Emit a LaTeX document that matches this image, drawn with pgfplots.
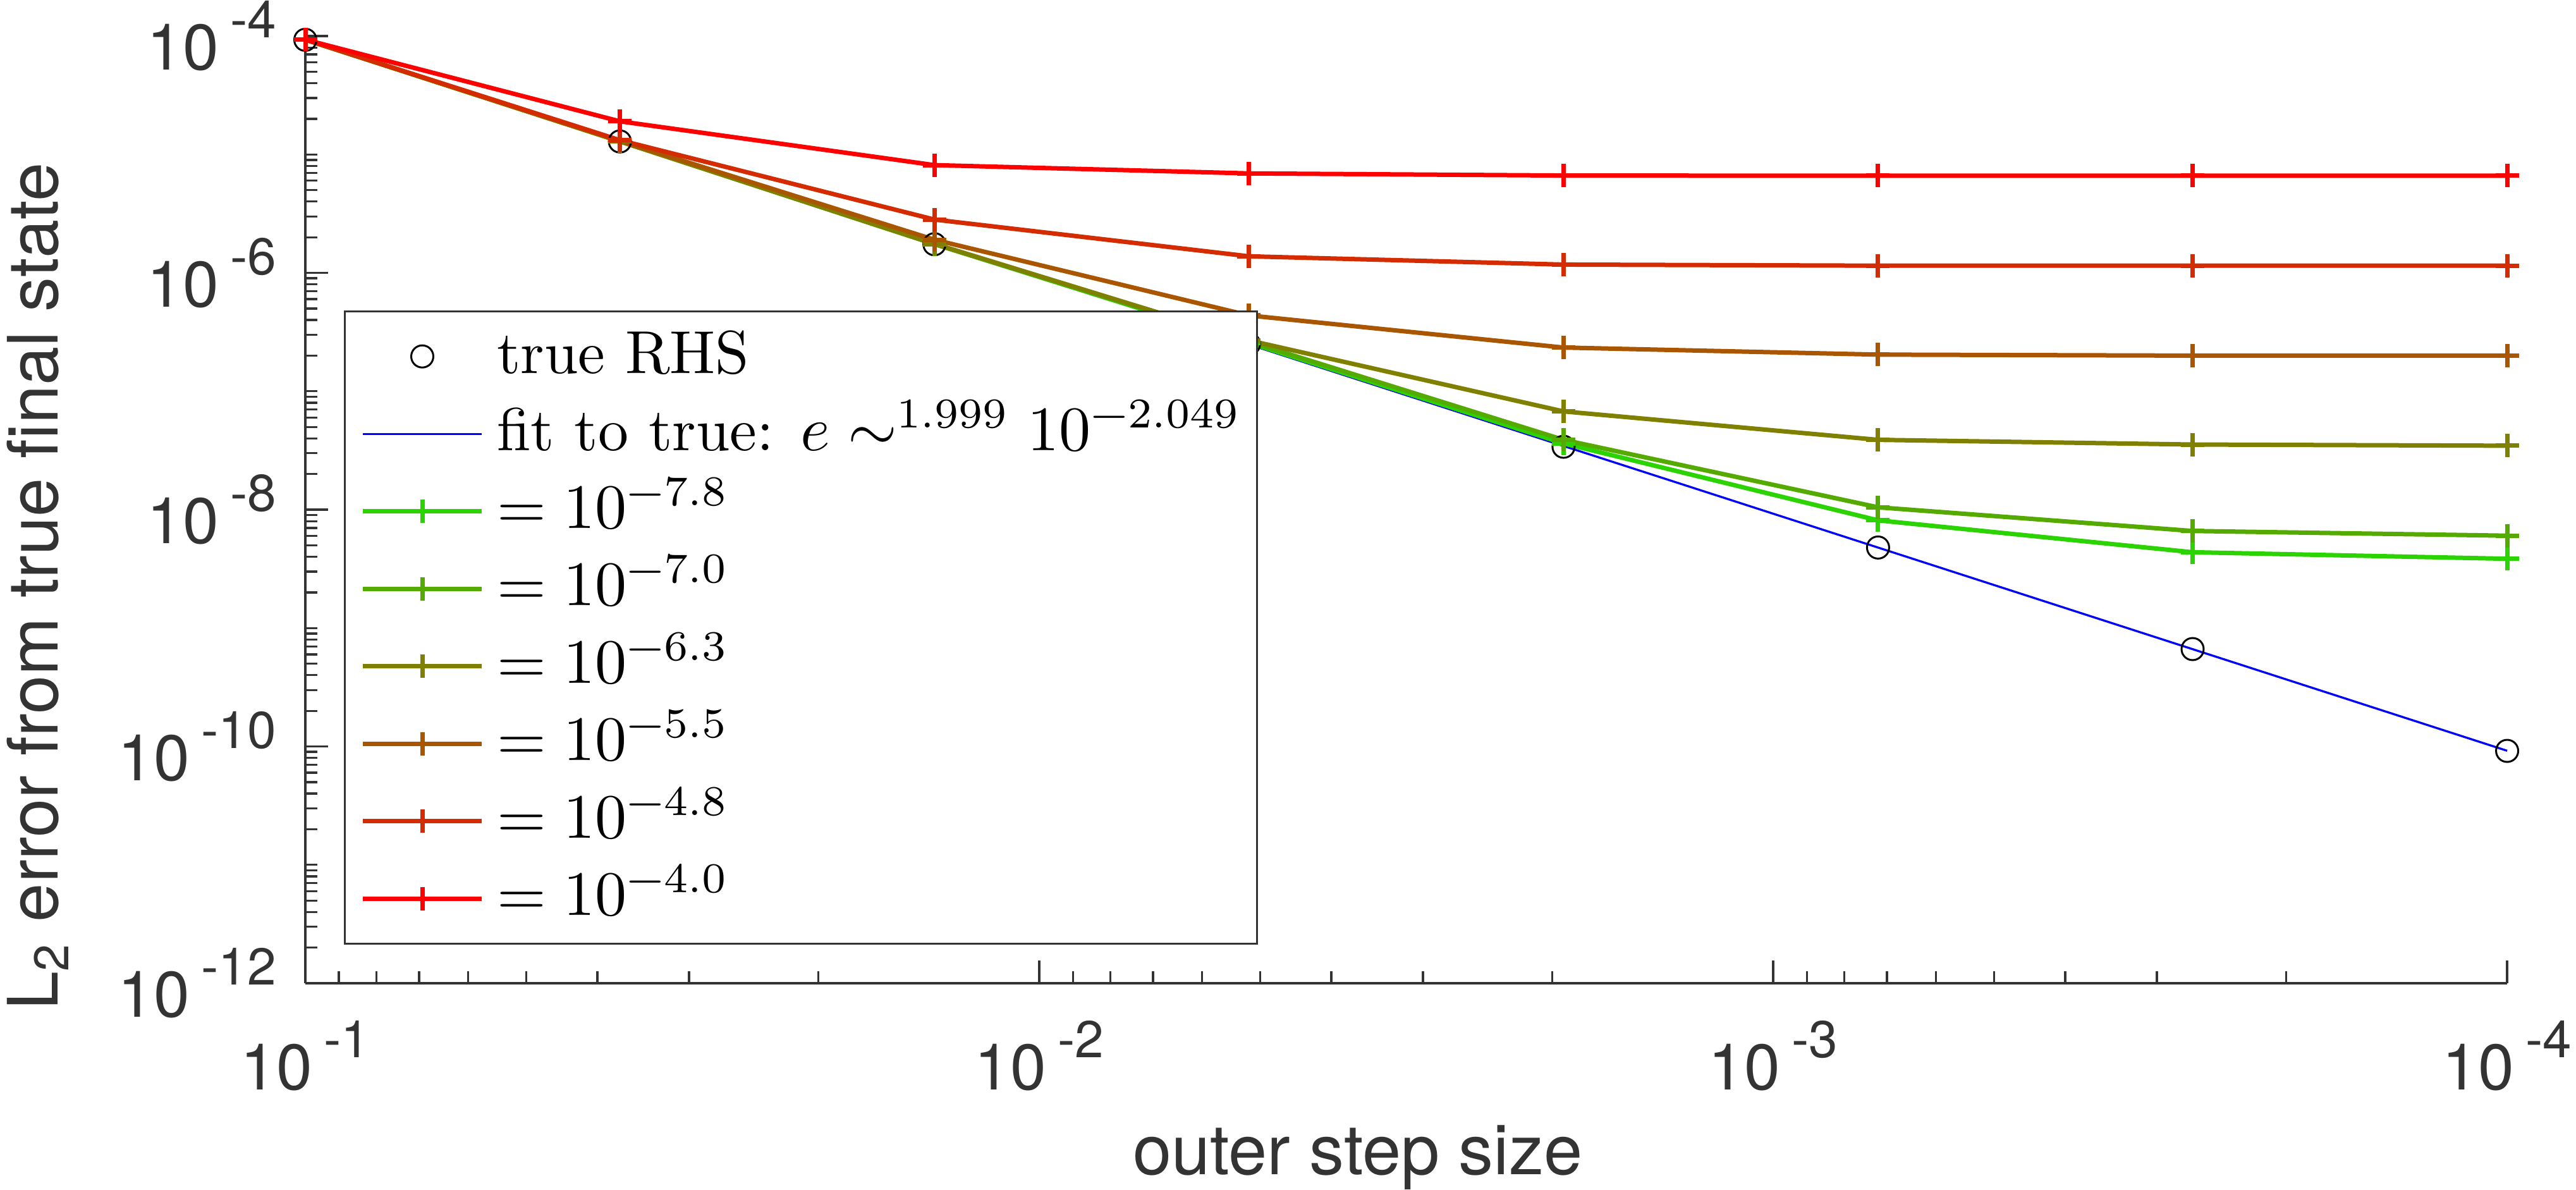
\documentclass[border=0pt]{standalone}
\usepackage{fontspec}
\usepackage{pgfplots}
\pgfplotsset{compat=1.18}
\newfontfamily\helv{TeX Gyre Heros}

\definecolor{axgray}{gray}{0.2}
\definecolor{tolA}{rgb}{0.1667,0.8333,0}
\definecolor{tolB}{rgb}{0.3333,0.6667,0}
\definecolor{tolC}{rgb}{0.5,0.5,0}
\definecolor{tolD}{rgb}{0.6667,0.3333,0}
\definecolor{tolE}{rgb}{0.8333,0.1667,0}
\definecolor{tolF}{rgb}{1,0,0}

% tick label: 10 with a raised exponent
\newcommand{\tp}[1]{10\hspace{0.18em}\raisebox{5.1pt}{\fontsize{8.2}{8.2}\selectfont #1}}
% legend exponent, set in the text design scaled down
\newcommand{\sups}[1]{^{\mbox{\fontsize{6.7}{6.7}\selectfont #1}}}

\begin{document}
\begin{tikzpicture}
\begin{axis}[
  scale only axis, width=348.3pt, height=149.8pt,
  xmode=log, ymode=log, x dir=reverse,
  xmin=1e-4, xmax=1e-1, ymin=1e-12, ymax=1e-4,
  axis x line*=bottom, axis y line*=left,
  axis line style={axgray, line width=0.33pt},
  tick align=inside,
  major tick length=3.6pt, minor tick length=1.9pt,
  tick style={axgray, line width=0.33pt},
  xtick={1e-1,1e-2,1e-3,1e-4},
  xticklabels={\tp{-1},\tp{-2},\tp{-3},\tp{-4}},
  minor xtick={2e-4,3e-4,4e-4,5e-4,6e-4,7e-4,8e-4,9e-4,
               2e-3,3e-3,4e-3,5e-3,6e-3,7e-3,8e-3,9e-3,
               2e-2,3e-2,4e-2,5e-2,6e-2,7e-2,8e-2,9e-2},
  ytick={1e-12,1e-10,1e-8,1e-6,1e-4},
  yticklabels={\tp{-12},\tp{-10},\tp{-8},\tp{-6},\tp{-4}},
  minor ytick={2e-12,3e-12,4e-12,5e-12,6e-12,7e-12,8e-12,9e-12,
               1e-11,2e-11,3e-11,4e-11,5e-11,6e-11,7e-11,8e-11,9e-11,
               2e-10,3e-10,4e-10,5e-10,6e-10,7e-10,8e-10,9e-10,
               1e-9,2e-9,3e-9,4e-9,5e-9,6e-9,7e-9,8e-9,9e-9,
               2e-8,3e-8,4e-8,5e-8,6e-8,7e-8,8e-8,9e-8,
               1e-7,2e-7,3e-7,4e-7,5e-7,6e-7,7e-7,8e-7,9e-7,
               2e-6,3e-6,4e-6,5e-6,6e-6,7e-6,8e-6,9e-6,
               1e-5,2e-5,3e-5,4e-5,5e-5,6e-5,7e-5,8e-5,9e-5},
  xticklabel style={font=\helv\fontsize{10.2}{12}\selectfont, text=axgray, anchor=north, inner sep=0pt, yshift=-5.7pt},
  yticklabel style={font=\helv\fontsize{10.2}{12}\selectfont, text=axgray, anchor=east, inner sep=0pt, xshift=-4.4pt},
  xlabel={outer step size},
  ylabel={L\textsubscript{2} error from true final state},
  xlabel style={font=\helv\fontsize{11}{13}\selectfont, text=axgray, at={(axis description cs:0.478,-0.2016)}, anchor=base, inner sep=0pt},
  ylabel style={font=\helv\fontsize{11}{13}\selectfont, text=axgray, at={(axis description cs:-0.1123,0.419)}, rotate=0, anchor=base, inner sep=0pt},
  legend cell align=left,
  legend image code/.code={\draw[mark repeat=2,mark phase=2] plot coordinates {(0cm,0cm) (0.33cm,0cm) (0.66cm,0cm)};},
  legend style={at={(axis description cs:0.0175,0.0407)}, anchor=south west,
    draw=axgray, line width=0.33pt, fill=white,
    inner xsep=2.5pt, inner ysep=1pt,
    font=\fontsize{9.6}{11.5}\selectfont, row sep=0pt,
    nodes={inner sep=0pt, text height=8.8pt, text depth=3.45pt},
    /tikz/every odd column/.append style={column sep=2.1pt}},
  clip=false,
]
% reference solution
\addplot[only marks, mark=o, mark size=1.75pt, mark options={black, line width=0.3pt},
  legend image code/.code={\path[draw=none] (-0.35pt,0pt) -- (0.66cm+0.35pt,0pt);
    \draw plot coordinates {(0.33cm,0cm)};}]
  coordinates {(0.1,9.3e-5) (0.037276,1.288e-5) (0.013895,1.746e-6) (0.0051795,2.51e-7)
               (0.0019307,3.40e-8) (0.00071969,4.79e-9) (0.00026827,6.65e-10) (0.0001,9.18e-11)};
\addlegendentry{true RHS}
% power-law fit through the reference errors
\addplot[blue, line width=0.33pt, no marks]
  coordinates {(0.1,9.33e-5) (0.037276,1.294e-5) (0.013895,1.795e-6) (0.0051795,2.489e-7)
               (0.0019307,3.451e-8) (0.00071969,4.786e-9) (0.00026827,6.637e-10) (0.0001,9.20e-11)};
\addlegendentry{fit to true: $e \sim\sups{1.999} 10\sups{−2.049}$}
\addplot[tolA, line width=0.7pt, mark=+, mark size=1.85pt, mark options={solid}]
  coordinates {(0.1,9.33e-5) (0.037276,1.29e-5) (0.013895,1.75e-6) (0.0051795,2.57e-7)
               (0.0019307,3.63e-8) (0.00071969,8.13e-9) (0.00026827,4.37e-9) (0.0001,3.85e-9)};
\addlegendentry{$=10\sups{−7.8}$}
\addplot[tolB, line width=0.7pt, mark=+, mark size=1.85pt, mark options={solid}]
  coordinates {(0.1,9.33e-5) (0.037276,1.29e-5) (0.013895,1.75e-6) (0.0051795,2.63e-7)
               (0.0019307,3.89e-8) (0.00071969,1.047e-8) (0.00026827,6.61e-9) (0.0001,6.03e-9)};
\addlegendentry{$=10\sups{−7.0}$}
\addplot[tolC, line width=0.7pt, mark=+, mark size=1.85pt, mark options={solid}]
  coordinates {(0.1,9.33e-5) (0.037276,1.29e-5) (0.013895,1.76e-6) (0.0051795,2.69e-7)
               (0.0019307,6.76e-8) (0.00071969,3.89e-8) (0.00026827,3.55e-8) (0.0001,3.47e-8)};
\addlegendentry{$=10\sups{−6.3}$}
\addplot[tolD, line width=0.7pt, mark=+, mark size=1.85pt, mark options={solid}]
  coordinates {(0.1,9.33e-5) (0.037276,1.30e-5) (0.013895,1.905e-6) (0.0051795,4.37e-7)
               (0.0019307,2.34e-7) (0.00071969,2.04e-7) (0.00026827,2.0e-7) (0.0001,2.0e-7)};
\addlegendentry{$=10\sups{−5.5}$}
\addplot[tolE, line width=0.7pt, mark=+, mark size=1.85pt, mark options={solid}]
  coordinates {(0.1,9.33e-5) (0.037276,1.32e-5) (0.013895,2.82e-6) (0.0051795,1.38e-6)
               (0.0019307,1.175e-6) (0.00071969,1.15e-6) (0.00026827,1.15e-6) (0.0001,1.15e-6)};
\addlegendentry{$=10\sups{−4.8}$}
\addplot[tolF, line width=0.7pt, mark=+, mark size=1.85pt, mark options={solid}]
  coordinates {(0.1,9.33e-5) (0.037276,1.905e-5) (0.013895,8.13e-6) (0.0051795,6.92e-6)
               (0.0019307,6.64e-6) (0.00071969,6.61e-6) (0.00026827,6.61e-6) (0.0001,6.61e-6)};
\addlegendentry{$=10\sups{−4.0}$}
\coordinate (bbsw) at (axis description cs:-0.13867,-0.21762);
\coordinate (bbne) at (axis description cs:1.03129,1.03805);
\end{axis}
\pgfresetboundingbox
\path[use as bounding box] (bbsw) rectangle (bbne);
\end{tikzpicture}
\end{document}
